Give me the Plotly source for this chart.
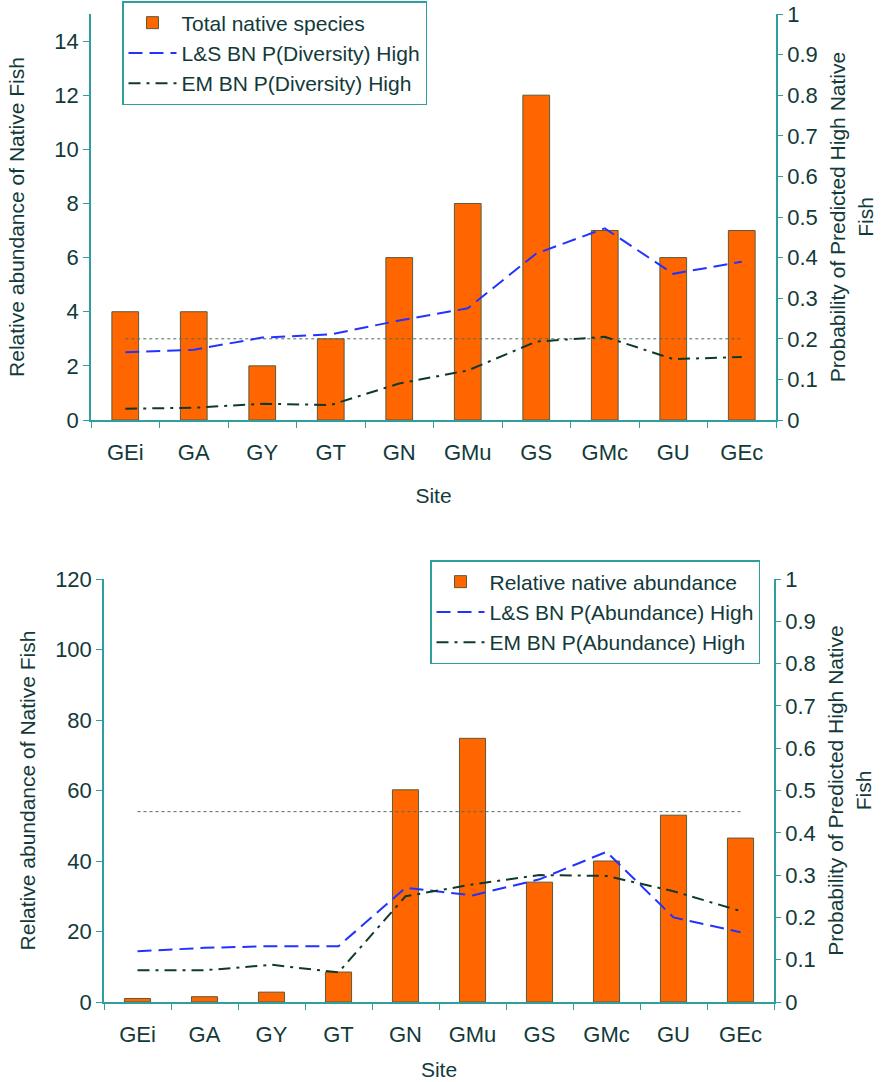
import plotly.graph_objects as go

sites = ["GEi", "GA", "GY", "GT", "GN", "GMu", "GS", "GMc", "GU", "GEc"]

# Top chart (diversity)
total_species = [4, 4, 2, 3, 6, 8, 12, 7, 6, 7]
ls_diversity = [0.167, 0.173, 0.203, 0.211, 0.245, 0.275, 0.41, 0.472, 0.36, 0.39]
em_diversity = [0.028, 0.030, 0.040, 0.037, 0.090, 0.122, 0.193, 0.205, 0.150, 0.155]
top_threshold = 0.2

# Bottom chart (abundance)
rel_abundance = [1.0, 1.5, 2.8, 8.5, 60.2, 74.8, 34.0, 40.0, 53.0, 46.5]
ls_abundance = [0.120, 0.128, 0.132, 0.132, 0.270, 0.252, 0.290, 0.355, 0.200, 0.165]
em_abundance = [0.075, 0.075, 0.088, 0.070, 0.250, 0.278, 0.300, 0.298, 0.262, 0.215]
bottom_threshold = 0.45

W, H = 881, 1082
TXT = "#123a3a"
AX = "#2f9e9e"
ORANGE = "#ff6600"
BAR_EDGE = "#5a5a3a"
BLUE = "#2233ff"
DARK = "#0f3a2a"
FONT = "Liberation Sans, Arial, sans-serif"
TICK_SIZE = 22
TITLE_SIZE = 21


def px_x(p):
    return p / W


def px_y(p):
    return 1 - p / H


fig = go.Figure()

# ---- Top chart ----
fig.add_trace(go.Bar(x=sites, y=total_species, name="Total native species",
                     marker=dict(color=ORANGE, line=dict(color=BAR_EDGE, width=1)),
                     xaxis="x", yaxis="y", legend="legend"))
fig.add_trace(go.Scatter(x=sites, y=[top_threshold] * len(sites), mode="lines",
                         line=dict(color="#4f6a64", width=1, dash="dot"),
                         showlegend=False, xaxis="x", yaxis="y2", hoverinfo="skip"))
fig.add_trace(go.Scatter(x=sites, y=ls_diversity, mode="lines", name="L&S BN P(Diversity) High",
                         line=dict(color=BLUE, width=2, dash="14px,7px"),
                         xaxis="x", yaxis="y2", legend="legend"))
fig.add_trace(go.Scatter(x=sites, y=em_diversity, mode="lines", name="EM BN P(Diversity) High",
                         line=dict(color=DARK, width=2, dash="12px,6px,3px,6px"),
                         xaxis="x", yaxis="y2", legend="legend"))

# ---- Bottom chart ----
fig.add_trace(go.Bar(x=sites, y=rel_abundance, name="Relative native abundance",
                     marker=dict(color=ORANGE, line=dict(color=BAR_EDGE, width=1)),
                     xaxis="x2", yaxis="y3", legend="legend2"))
fig.add_trace(go.Scatter(x=sites, y=[bottom_threshold] * len(sites), mode="lines",
                         line=dict(color="#4f6a64", width=1, dash="dot"),
                         showlegend=False, xaxis="x2", yaxis="y4", hoverinfo="skip"))
fig.add_trace(go.Scatter(x=sites, y=ls_abundance, mode="lines", name="L&S BN P(Abundance) High",
                         line=dict(color=BLUE, width=2, dash="14px,7px"),
                         xaxis="x2", yaxis="y4", legend="legend2"))
fig.add_trace(go.Scatter(x=sites, y=em_abundance, mode="lines", name="EM BN P(Abundance) High",
                         line=dict(color=DARK, width=2, dash="12px,6px,3px,6px"),
                         xaxis="x2", yaxis="y4", legend="legend2"))

tickfont = dict(family=FONT, size=TICK_SIZE, color=TXT)
titlefont = dict(family=FONT, size=TITLE_SIZE, color=TXT)


def xaxis_cfg(domain, anchor, standoff):
    return dict(domain=domain, anchor=anchor, type="category", showline=True, linecolor=AX,
                linewidth=1.5, ticks="outside", ticklen=6, tickcolor=AX, tickson="boundaries",
                tickfont=tickfont, showgrid=False, zeroline=False, automargin=False,
                ticklabelstandoff=12, ticklabeloverflow="allow",
                title=dict(text="Site", font=titlefont, standoff=standoff),
                range=[-0.5, 9.5])


def yleft_cfg(domain, anchor, rng, dtick, title, standoff):
    return dict(domain=domain, anchor=anchor, range=rng, dtick=dtick, showline=True,
                linecolor=AX, linewidth=1.5, ticks="outside", ticklen=6, tickcolor=AX,
                tickfont=tickfont, showgrid=False, zeroline=False, automargin=False,
                ticklabeloverflow="allow",
                title=dict(text=title, font=titlefont, standoff=standoff))


def yright_cfg(domain, overlay, anchor, title):
    return dict(domain=domain, overlaying=overlay, anchor=anchor, side="right", range=[0, 1],
                dtick=0.1, showline=True, linecolor=AX, linewidth=1.5, ticks="outside",
                ticklen=5, tickcolor=AX, tickfont=tickfont, showgrid=False, zeroline=False,
                automargin=False, ticklabeloverflow="allow",
                title=dict(text=title, font=titlefont, standoff=14))


top_dom_y = [px_y(420), px_y(14)]
bot_dom_y = [px_y(1002), px_y(579)]
right_title = "Probability of Predicted High Native<br>Fish"

fig.update_layout(
    width=W, height=H,
    margin=dict(l=0, r=0, t=0, b=0),
    paper_bgcolor="white", plot_bgcolor="white",
    font=dict(family=FONT, color=TXT),
    barmode="overlay", bargap=0.61,
    hovermode=False,
    xaxis=xaxis_cfg([px_x(91), px_x(776)], "y", 24),
    yaxis=yleft_cfg(top_dom_y, "x", [0, 15], 2, "Relative abundance of Native Fish", 24),
    yaxis2=yright_cfg(top_dom_y, "y", "x", right_title),
    xaxis2=xaxis_cfg([px_x(104), px_x(774)], "y3", 16),
    yaxis3=yleft_cfg(bot_dom_y, "x2", [0, 120], 20, "Relative abundance of Native Fish", 14),
    yaxis4=yright_cfg(bot_dom_y, "y3", "x2", right_title),
    legend=dict(x=px_x(122), y=px_y(1), xanchor="left", yanchor="top",
                bgcolor="white", bordercolor=AX, borderwidth=1.5, itemwidth=48,
                font=dict(family=FONT, size=21, color=TXT), tracegroupgap=0),
    legend2=dict(x=px_x(760), y=px_y(560), xanchor="right", yanchor="top",
                 bgcolor="white", bordercolor=AX, borderwidth=1.5, itemwidth=48,
                 font=dict(family=FONT, size=21, color=TXT), tracegroupgap=0),
    showlegend=True,
)

# remove the default 8px page margin so the figure sits at the window's corner
fig.write_html("out.html",
               config={"displayModeBar": False},
               post_script="document.body.style.margin='0';document.body.style.overflow='hidden';")
